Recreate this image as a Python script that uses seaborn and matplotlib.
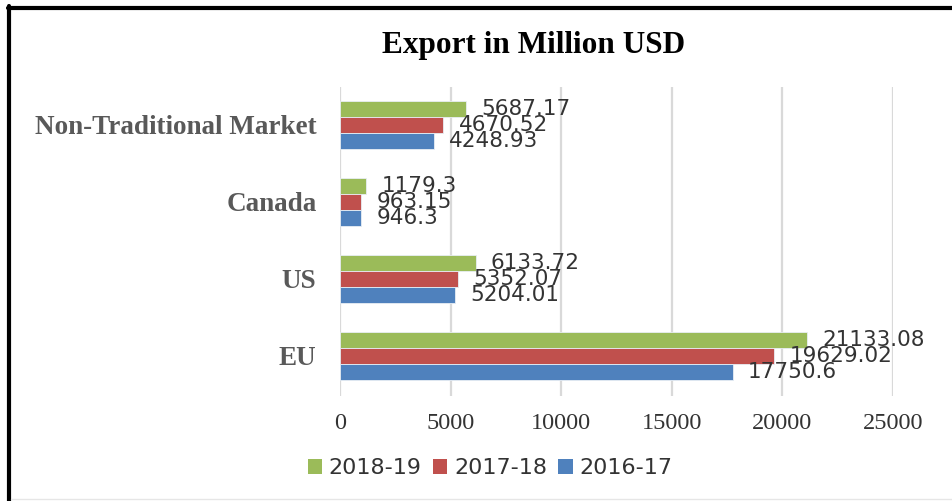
import matplotlib
matplotlib.use("Agg")
import matplotlib.pyplot as plt
from matplotlib.lines import Line2D
from matplotlib.patches import Patch
import seaborn as sns
import pandas as pd

# Export values in million USD by market and fiscal year
markets = ["Non-Traditional Market", "Canada", "US", "EU"]
years = ["2018-19", "2017-18", "2016-17"]
exports_2018_19 = [5687.17, 1179.3, 6133.72, 21133.08]
exports_2017_18 = [4670.52, 963.15, 5352.07, 19629.02]
exports_2016_17 = [4248.93, 946.3, 5204.01, 17750.6]
x_ticks = [0, 5000, 10000, 15000, 20000, 25000]

series = {"2018-19": exports_2018_19, "2017-18": exports_2017_18, "2016-17": exports_2016_17}
df = pd.DataFrame(
    [(m, y, v) for y in years for m, v in zip(markets, series[y])],
    columns=["Market", "Year", "Export"],
)

palette = {"2018-19": "#9BBB59", "2017-18": "#C0504D", "2016-17": "#4F81BD"}

sns.set_style("white")
plt.rcParams["font.family"] = ["DejaVu Sans"]

fig = plt.figure(figsize=(9.53, 5.01), dpi=100)
ax = fig.add_axes([340 / 953, 1 - 396 / 501, 553 / 953, 309 / 501])

sns.barplot(
    data=df, y="Market", x="Export", hue="Year", order=markets, hue_order=years,
    palette=palette, orient="h", width=0.62, edgecolor="#E8EEF4", linewidth=0.6,
    saturation=1, ax=ax, legend=False,
)

ax.set_xlim(0, 25000)
ax.set_ylim(3.52, -0.49)
ax.set_xticks(x_ticks)
ax.set_xticklabels([str(t) for t in x_ticks], family="Liberation Serif",
                   fontsize=17.5, color="#333333")
ax.set_yticks(range(len(markets)))
ax.set_yticklabels(markets, family="Liberation Serif", fontweight="bold",
                   fontsize=19.5, color="#595959")
ax.tick_params(axis="x", length=0, pad=12)
ax.tick_params(axis="y", length=0, pad=17)
ax.set_xlabel("")
ax.set_ylabel("")
for s in ax.spines.values():
    s.set_visible(False)
ax.grid(axis="x", color="#D9D9D9", linewidth=1.6)
ax.grid(axis="y", visible=False)
ax.set_axisbelow(True)

for cont, y in zip(ax.containers, years):
    ax.bar_label(cont, labels=[str(v) for v in series[y]], padding=11,
                 fontsize=15.5, color="#333333", family="DejaVu Sans")

fig.text(534 / 953, 1 - 45 / 501, "Export in Million USD", ha="center", va="center",
         family="Liberation Serif", fontweight="bold", fontsize=22.5, color="black")

handles = [Patch(facecolor=palette[y], edgecolor="none", label=y) for y in years]
fig.legend(handles=handles, loc="center", bbox_to_anchor=(490 / 953, 1 - 468 / 501),
           ncol=3, frameon=False, fontsize=16, handlelength=0.65, handleheight=0.65,
           handletextpad=0.3, columnspacing=0.5, labelcolor="#333333")

# frame lines along the top and left edge
fig.add_artist(Line2D([8 / 953, 1], [1 - 7.5 / 501] * 2, color="black", linewidth=3,
                      transform=fig.transFigure))
fig.add_artist(Line2D([9.5 / 953] * 2, [0, 1 - 6 / 501], color="black", linewidth=3,
                      transform=fig.transFigure))
fig.add_artist(Line2D([11 / 953, 1], [2 / 501] * 2, color="#E6E6E6", linewidth=1,
                      transform=fig.transFigure))

fig.savefig("out.png", dpi=100)
